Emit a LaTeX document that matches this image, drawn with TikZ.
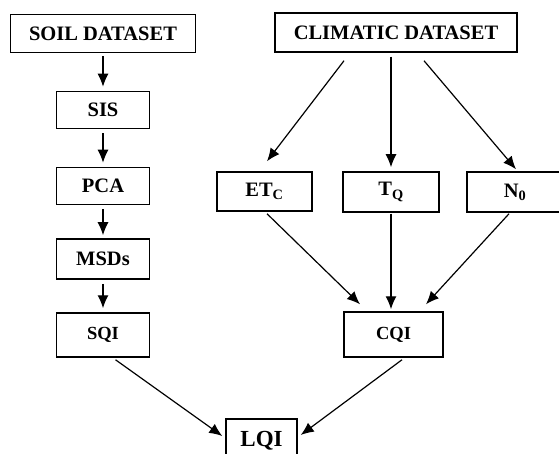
\documentclass[tikz,border=0pt]{standalone}
\usepackage{fontspec}
\setmainfont{Liberation Serif}
\usetikzlibrary{arrows.meta,positioning,calc}

\begin{document}
\begin{tikzpicture}[
x=1pt, y=-1pt,
>={Latex[length=13pt,width=11pt]}, line width=1.2pt,
data-node/.style = {draw, line width=1.5pt, inner sep=0pt, minimum height=38pt, font=\bfseries\fontsize{20.5}{24}\selectfont},
step-node/.style = {draw, line width=1.5pt, inner sep=0pt, minimum width=93pt, minimum height=37pt, font=\bfseries\fontsize{20.5}{24}\selectfont},
index-node/.style = {step-node, minimum height=44pt, font=\bfseries\fontsize{18.5}{22}\selectfont}
]
\useasboundingbox (0,0) rectangle (559,454);

% soil side
\node [data-node, minimum width=185pt] (soil) at (103, 33.5) {SOIL DATASET};
\node [step-node] (sis) at (103, 110) {SIS};
\node [step-node] (pca) at (103, 186) {PCA};
\node [step-node, minimum height=40pt] (msds) at (103, 259) {MSDs};
\node [index-node] (sqi) at (103, 335) {SQI};

% climatic side
\node [data-node, minimum width=242pt, minimum height=39pt] (clim) at (396, 32.5) {CLIMATIC DATASET};
\node [step-node, minimum width=95pt, minimum height=39pt] (etc) at (264.5, 191.5) {ET\textsubscript{C}};
\node [step-node, minimum width=96pt, minimum height=40pt] (tq) at (391, 192) {T\textsubscript{Q}};
\node [step-node, minimum width=96pt, minimum height=40pt] (nzero) at (515, 192) {N\textsubscript{0}};
\node [index-node, minimum width=99pt, minimum height=45pt] (cqi) at (393.5, 334.5) {CQI};

% result
\node [index-node, minimum width=71pt, font=\bfseries\fontsize{23}{26}\selectfont] (lqi) at (261.5, 441) {LQI};


% arrows
\draw[->] ([yshift=-3pt]soil.south) -- ([yshift=4pt]sis.north);
\draw[->] ([yshift=-4pt]sis.south) -- ([yshift=4pt]pca.north);
\draw[->] ([yshift=-4pt]pca.south) -- ([yshift=3pt]msds.north);
\draw[->] ([yshift=-4pt]msds.south) -- ([yshift=4pt]sqi.north);

\draw[->] ([xshift=-52pt,yshift=-8pt]clim.south) -- ([xshift=2.5pt,yshift=10pt]etc.north);
\draw[->] ([yshift=-4pt]clim.south -| tq.north) -- ([yshift=4pt]tq.north);
\draw[->] ([xshift=28pt,yshift=-8pt]clim.south) -- ([xshift=1pt,yshift=2pt]nzero.north);

\draw[->] ([xshift=2.5pt,yshift=-2pt]etc.south) -- ([xshift=-33.5pt,yshift=7pt]cqi.north);
\draw[->] ([yshift=-1pt]tq.south) -- ([yshift=2pt]tq.south |- cqi.north);
\draw[->] ([xshift=-6pt,yshift=-1pt]nzero.south) -- ([xshift=32.5pt,yshift=7pt]cqi.north);

\draw[->] ([xshift=12.5pt,yshift=-2pt]sqi.south) -- ([xshift=-3pt,yshift=5pt]lqi.west);
\draw[->] ([xshift=8.5pt,yshift=-2pt]cqi.south) -- ([xshift=3pt,yshift=6pt]lqi.east);

\end{tikzpicture}
\end{document}
